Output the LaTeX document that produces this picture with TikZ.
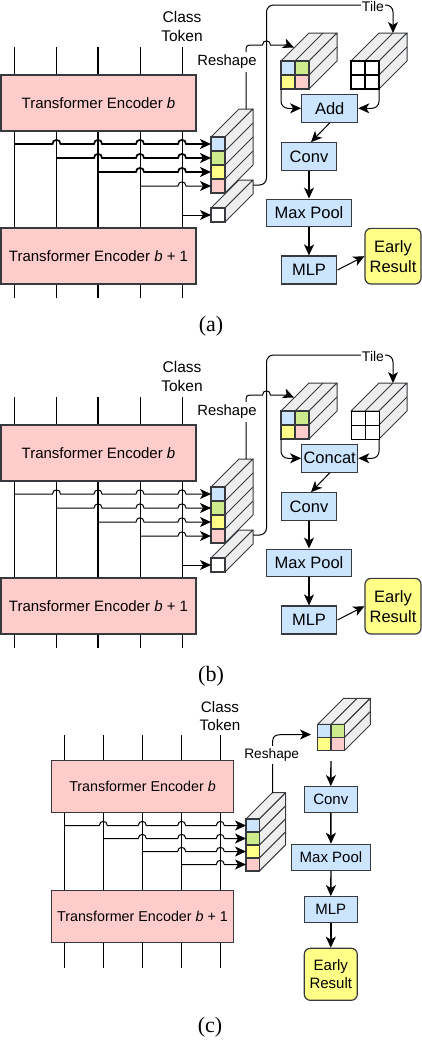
\documentclass[tikz,border=0pt]{standalone}
\usepackage{fontspec}
\setmainfont{Liberation Sans}
\newfontfamily\capfont{Liberation Serif}
\usetikzlibrary{arrows.meta}
\definecolor{bord}{HTML}{36393D}
\definecolor{pinkF}{HTML}{FFCCCC}
\definecolor{blueF}{HTML}{CCE5FF}
\definecolor{yelF}{HTML}{FFFF88}
\definecolor{grnF}{HTML}{CDEB8B}
\definecolor{faceF}{HTML}{EEEEEE}
\tikzset{
 ln/.style={line width=1pt, black},
 arr/.style={black, line width=1.4pt, -{Stealth[length=11pt,width=10pt,inset=3pt]}},
 enc/.style={draw=bord, fill=pinkF, line width=1.2pt, inner sep=0pt},
 opbox/.style={draw=bord, fill=blueF, line width=1.2pt, inner sep=0pt},
 early/.style={draw=bord, fill=yelF, line width=1.2pt, rounded corners=6pt, inner sep=0pt, align=center},
 cellbox/.style={draw=bord, line width=1.2pt, inner sep=0pt, outer sep=0pt},
 face/.style={draw=bord, fill=faceF, line width=1pt, line join=round},
 lbl/.style={inner sep=1pt},
 capt/.style={font=\capfont\fontsize{22}{24}\selectfont},
}
% x0, y0, cell w, cell h, cols, rows, depth
\newcommand\prismbox[7]{%
 \pgfmathsetmacro\pW{#3*#5}%
 \pgfmathsetmacro\pH{#4*#6}%
 \draw[face] (#1,#2) -- ++(#7,-#7) -- ++(\pW,0) -- ++(-#7,#7) -- cycle;
 \draw[face] (#1+\pW,#2) -- ++(#7,-#7) -- ++(0,\pH) -- ++(-#7,#7) -- cycle;
 \ifnum#5>1 \foreach \ii in {2,...,#5}{\draw[face] (#1+\ii*#3-#3,#2) -- ++(#7,-#7);}\fi
 \ifnum#6>1 \foreach \jj in {2,...,#6}{\draw[face] (#1+\pW,#2+\jj*#4-#4) -- ++(#7,-#7);}\fi
}
% line width, start node, y, hop list, end node
\newcommand\hopline[5]{\draw[arr, line width=#1] (#2) \foreach \c in {#4}{ -- (\c-4,#3) .. controls (\c-4,#3-5.5) and (\c+4,#3-5.5) .. (\c+4,#3)} -- (#5);}
% prefix, shift, combine label, hline width, grid width, caption
\newcommand\panelAB[6]{%
\begin{scope}[shift={(0,#2)}]
 \foreach \vx/\vw [count=\k] in {14.5/1pt,56.5/1pt,98/1.7pt,140/1pt,182/1pt}{
   \coordinate (#1vt\k) at (\vx,47); \coordinate (#1vb\k) at (\vx,298);
   \draw[ln, line width=\vw] (#1vt\k) -- (#1vb\k);}
 \node[enc, minimum width=195pt, minimum height=56pt, font=\fontsize{15}{18}\selectfont] (#1encA) at (98.5,103) {Transformer Encoder \textit{b}};
 \node[enc, minimum width=195pt, minimum height=56pt, font=\fontsize{15}{18}\selectfont] (#1encB) at (98.5,256) {Transformer Encoder \textit{b} + 1};
 \node[lbl, align=center, font=\fontsize{15.5}{19}\selectfont] (#1cls) at (182,26.5) {Class\\Token};
 % stack and class token prism
 \prismbox{211}{137}{14}{14}{1}{4}{28}
 \prismbox{211}{208}{14}{14}{1}{1}{28}
 \node[cellbox, fill=blueF, minimum width=14pt, minimum height=14pt] (#1c1) at (218,144) {};
 \node[cellbox, fill=grnF, minimum width=14pt, minimum height=14pt] (#1c2) at (218,158) {};
 \node[cellbox, fill=yelF, minimum width=14pt, minimum height=14pt] (#1c3) at (218,172) {};
 \node[cellbox, fill=pinkF, minimum width=14pt, minimum height=14pt] (#1c4) at (218,186) {};
 \node[cellbox, fill=white, minimum width=14pt, minimum height=14pt] (#1c5) at (218,215) {};
 \hopline{#4}{#1vt1 |- #1c1.west}{144}{56.5,98,140,182}{#1c1.west}
 \hopline{#4}{#1vt2 |- #1c2.west}{158}{98,140,182}{#1c2.west}
 \hopline{#4}{#1vt3 |- #1c3.west}{172}{140,182}{#1c3.west}
 \hopline{1pt}{#1vt4 |- #1c4.west}{186}{182}{#1c4.west}
 \draw[arr, line width=1pt] (#1vt5 |- #1c5.west) -- (#1c5.west);
 % reshaped tensor
 \prismbox{281}{61}{14}{14}{2}{2}{28}
 \node[cellbox, fill=blueF, minimum width=14pt, minimum height=14pt] (#1q1) at (288,68) {};
 \node[cellbox, fill=grnF, minimum width=14pt, minimum height=14pt] (#1q2) at (302,68) {};
 \node[cellbox, fill=yelF, minimum width=14pt, minimum height=14pt] (#1q3) at (288,82) {};
 \node[cellbox, fill=pinkF, minimum width=14pt, minimum height=14pt] (#1q4) at (302,82) {};
 % tiled class token
 \prismbox{351}{61}{14}{14}{2}{2}{28}
 \node[cellbox, draw=black, line width=#5, fill=white, minimum width=14pt, minimum height=14pt] (#1g1) at (358,68) {};
 \node[cellbox, draw=black, line width=#5, fill=white, minimum width=14pt, minimum height=14pt] (#1g2) at (372,68) {};
 \node[cellbox, draw=black, line width=#5, fill=white, minimum width=14pt, minimum height=14pt] (#1g3) at (358,82) {};
 \node[cellbox, draw=black, line width=#5, fill=white, minimum width=14pt, minimum height=14pt] (#1g4) at (372,82) {};
 % boxes
 \node[opbox, minimum width=56pt, minimum height=28pt, font=\fontsize{16.5}{19}\selectfont] (#1add) at (329.7,108.3) {#3};
 \node[opbox, minimum width=55.7pt, minimum height=27.5pt, font=\fontsize{16.5}{19}\selectfont] (#1conv) at (309,156.5) {Conv};
 \node[opbox, minimum width=84.3pt, minimum height=27.7pt, font=\fontsize{16.5}{19}\selectfont] (#1pool) at (309,213) {Max Pool};
 \node[opbox, minimum width=55.7pt, minimum height=28pt, font=\fontsize{16.5}{19}\selectfont] (#1mlp) at (309,270) {MLP};
 \node[early, minimum width=56pt, minimum height=55.7pt, font=\fontsize{16.5}{20}\selectfont] (#1early) at (393,256.2) {Early\\Result};
 % tile path
 \coordinate (#1ts) at (253,185);
 \coordinate (#1te) at (393,33);
 \draw[arr, line width=1pt, rounded corners=7pt] (#1ts) -- (266.5,185) -- (266.5,5) -- (393,5) -- (#1te);
 \node[lbl, fill=white, font=\fontsize{14}{16}\selectfont] (#1tl) at (373,6) {Tile};
 % reshape path
 \coordinate (#1rs) at (246,109);
 \coordinate (#1re) at (294,47.5);
 \draw[arr, line width=1pt] (#1rs) -- (246,53) .. controls (246,45) .. (254,45) -- (262.5,45) .. controls (262.5,39.5) and (270.5,39.5) .. (270.5,45) -- (283,45) .. controls (288,45) .. (#1re);
 \node[lbl, fill=white, inner ysep=3pt, font=\fontsize{14.8}{17}\selectfont] (#1rsl) at (227,62) {Reshape};
 % connectors
 \draw[arr, line width=1pt, rounded corners=7pt] (#1q3.south west) |- (#1add.west);
 \draw[arr, line width=1pt, rounded corners=7pt] (#1g4.south east) |- (#1add.east);
 \draw[arr, line width=1pt] (#1add.south) -- ([xshift=2pt]#1conv.north);
 \draw[arr] (#1conv.south) -- (#1pool.north);
 \draw[arr] (#1pool.south) -- (#1mlp.north);
 \draw[arr, line width=1pt] (#1mlp.east) -- (#1early.west);
 \node[capt] (#1cap) at (211,326) {#6};
\end{scope}}

\begin{document}
\begin{tikzpicture}[x=1pt,y=-1pt]
\useasboundingbox (0,0) rectangle (422,1042);
\panelAB{a}{0}{Add}{1.7pt}{2pt}{(a)}
\panelAB{b}{350}{Concat}{1pt}{1pt}{(b)}
% ---------- panel (c)
\foreach \vx/\vw [count=\k] in {64.3/1pt,103.3/1pt,142.3/1.6pt,181.7/1pt,220.3/1pt}{
  \coordinate (cvt\k) at (\vx,735); \coordinate (cvb\k) at (\vx,968);
  \draw[ln, line width=\vw] (cvt\k) -- (cvb\k);}
\node[enc, minimum width=181.6pt, minimum height=51.6pt, font=\fontsize{14.3}{17}\selectfont] (cencA) at (142.5,786.5) {Transformer Encoder \textit{b}};
\node[enc, minimum width=181.6pt, minimum height=51.6pt, font=\fontsize{14.3}{17}\selectfont] (cencB) at (142.5,916.5) {Transformer Encoder \textit{b} + 1};
\node[lbl, align=center, font=\fontsize{15.2}{18}\selectfont] (ccls) at (220,716) {Class\\Token};
\prismbox{246}{819}{13.3}{13}{1}{4}{26.3}
\node[cellbox, fill=blueF, minimum width=13.3pt, minimum height=13pt] (cc1) at (252.65,825.5) {};
\node[cellbox, fill=grnF, minimum width=13.3pt, minimum height=13pt] (cc2) at (252.65,838.5) {};
\node[cellbox, fill=yelF, minimum width=13.3pt, minimum height=13pt] (cc3) at (252.65,851.5) {};
\node[cellbox, fill=pinkF, minimum width=13.3pt, minimum height=13pt] (cc4) at (252.65,864.5) {};
\hopline{1pt}{cvt1 |- cc1.west}{825.5}{103.3,142.3,181.7,220.3}{cc1.west}
\hopline{1pt}{cvt2 |- cc2.west}{838.5}{142.3,181.7,220.3}{cc2.west}
\hopline{1pt}{cvt3 |- cc3.west}{851.5}{181.7,220.3}{cc3.west}
\hopline{1pt}{cvt4 |- cc4.west}{864.5}{220.3}{cc4.west}
\prismbox{317.7}{724.3}{13.3}{13.2}{2}{2}{26}
\node[cellbox, fill=blueF, minimum width=13.3pt, minimum height=13.2pt] (cq1) at (324.35,730.9) {};
\node[cellbox, fill=grnF, minimum width=13.3pt, minimum height=13.2pt] (cq2) at (337.65,730.9) {};
\node[cellbox, fill=yelF, minimum width=13.3pt, minimum height=13.2pt] (cq3) at (324.35,744.1) {};
\node[cellbox, fill=pinkF, minimum width=13.3pt, minimum height=13.2pt] (cq4) at (337.65,744.1) {};
\coordinate (crs) at (272.5,793);
\coordinate (cre) at (311,734.5);
\draw[arr, line width=1pt] (crs) -- (272.5,748) .. controls (272.5,734.5) .. (290,734.5) -- (cre);
\node[lbl, fill=white, inner ysep=3pt, font=\fontsize{13.7}{16}\selectfont] (crsl) at (271.7,755) {Reshape};
\node[opbox, minimum width=53pt, minimum height=25.6pt, font=\fontsize{15}{18}\selectfont] (cconv) at (330.8,799.5) {Conv};
\node[opbox, minimum width=78.6pt, minimum height=26pt, font=\fontsize{15}{18}\selectfont] (cpool) at (331,857.3) {Max Pool};
\node[opbox, minimum width=53pt, minimum height=25.6pt, font=\fontsize{15}{18}\selectfont] (cmlp) at (330.8,909.5) {MLP};
\node[early, minimum width=53pt, minimum height=52pt, font=\fontsize{15}{18}\selectfont] (cearly) at (330.8,974.3) {Early\\Result};
\coordinate (cpa) at (331,761);
\draw[arr] (cpa) -- (cconv.north);
\draw[arr] (cconv.south) -- (cpool.north);
\draw[arr] (cpool.south) -- (cmlp.north);
\draw[arr] (cmlp.south) -- (cearly.north);
\node[capt] (ccap) at (210,1026.7) {(c)};
\end{tikzpicture}
\end{document}
